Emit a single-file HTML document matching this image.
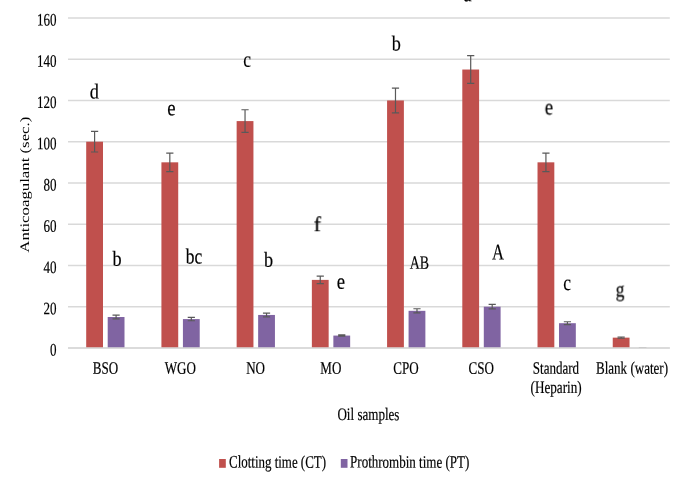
<!DOCTYPE html><html><head><meta charset="utf-8"><style>html,body{margin:0;padding:0;background:#fff;overflow:hidden}svg{display:block;filter:blur(0.35px)}text{font-family:"Liberation Serif",serif;fill:#000;text-rendering:geometricPrecision;stroke:#000;stroke-width:0.2px}g.t{filter:grayscale(1)}</style></head><body>
<svg width="685" height="486" viewBox="0 0 685 486">
<rect width="685" height="486" fill="#fff"/>
<line x1="68.0" x2="669.8" y1="347.95" y2="347.95" stroke="#d9d9d9" stroke-width="1.35"/>
<line x1="68.0" x2="669.8" y1="306.70" y2="306.70" stroke="#d9d9d9" stroke-width="1.35"/>
<line x1="68.0" x2="669.8" y1="265.45" y2="265.45" stroke="#d9d9d9" stroke-width="1.35"/>
<line x1="68.0" x2="669.8" y1="224.21" y2="224.21" stroke="#d9d9d9" stroke-width="1.35"/>
<line x1="68.0" x2="669.8" y1="182.96" y2="182.96" stroke="#d9d9d9" stroke-width="1.35"/>
<line x1="68.0" x2="669.8" y1="141.71" y2="141.71" stroke="#d9d9d9" stroke-width="1.35"/>
<line x1="68.0" x2="669.8" y1="100.46" y2="100.46" stroke="#d9d9d9" stroke-width="1.35"/>
<line x1="68.0" x2="669.8" y1="59.21" y2="59.21" stroke="#d9d9d9" stroke-width="1.35"/>
<line x1="68.0" x2="669.8" y1="17.97" y2="17.97" stroke="#d9d9d9" stroke-width="1.35"/>
<rect x="86.20" y="141.71" width="16.8" height="206.24" fill="#c0504d"/>
<path d="M94.60 131.40V152.02M91.00 131.40H98.20M91.00 152.02H98.20" stroke="#595959" stroke-width="1.2" fill="none"/>
<rect x="107.70" y="317.01" width="16.8" height="30.94" fill="#8064a2"/>
<path d="M116.10 315.16V318.87M112.50 315.16H119.70M112.50 318.87H119.70" stroke="#595959" stroke-width="1.2" fill="none"/>
<rect x="161.42" y="162.33" width="16.8" height="185.62" fill="#c0504d"/>
<path d="M169.82 153.05V171.61M166.22 153.05H173.42M166.22 171.61H173.42" stroke="#595959" stroke-width="1.2" fill="none"/>
<rect x="182.92" y="319.08" width="16.8" height="28.87" fill="#8064a2"/>
<path d="M191.32 317.43V320.73M187.72 317.43H194.92M187.72 320.73H194.92" stroke="#595959" stroke-width="1.2" fill="none"/>
<rect x="236.64" y="121.09" width="16.8" height="226.86" fill="#c0504d"/>
<path d="M245.04 109.74V132.43M241.44 109.74H248.64M241.44 132.43H248.64" stroke="#595959" stroke-width="1.2" fill="none"/>
<rect x="258.14" y="314.95" width="16.8" height="33.00" fill="#8064a2"/>
<path d="M266.54 313.10V316.81M262.94 313.10H270.14M262.94 316.81H270.14" stroke="#595959" stroke-width="1.2" fill="none"/>
<rect x="311.86" y="279.89" width="16.8" height="68.06" fill="#c0504d"/>
<path d="M320.26 276.18V283.60M316.66 276.18H323.86M316.66 283.60H323.86" stroke="#595959" stroke-width="1.2" fill="none"/>
<rect x="333.36" y="335.58" width="16.8" height="12.37" fill="#8064a2"/>
<path d="M341.76 334.96V336.19M338.16 334.96H345.36M338.16 336.19H345.36" stroke="#595959" stroke-width="1.2" fill="none"/>
<rect x="387.08" y="100.46" width="16.8" height="247.49" fill="#c0504d"/>
<path d="M395.48 88.09V112.84M391.88 88.09H399.08M391.88 112.84H399.08" stroke="#595959" stroke-width="1.2" fill="none"/>
<rect x="408.58" y="310.83" width="16.8" height="37.12" fill="#8064a2"/>
<path d="M416.98 308.76V312.89M413.38 308.76H420.58M413.38 312.89H420.58" stroke="#595959" stroke-width="1.2" fill="none"/>
<rect x="462.30" y="69.53" width="16.8" height="278.42" fill="#c0504d"/>
<path d="M470.70 55.71V83.34M467.10 55.71H474.30M467.10 83.34H474.30" stroke="#595959" stroke-width="1.2" fill="none"/>
<rect x="483.80" y="306.70" width="16.8" height="41.25" fill="#8064a2"/>
<path d="M492.20 304.43V308.97M488.60 304.43H495.80M488.60 308.97H495.80" stroke="#595959" stroke-width="1.2" fill="none"/>
<rect x="537.52" y="162.33" width="16.8" height="185.62" fill="#c0504d"/>
<path d="M545.92 153.05V171.61M542.32 153.05H549.52M542.32 171.61H549.52" stroke="#595959" stroke-width="1.2" fill="none"/>
<rect x="559.02" y="323.20" width="16.8" height="24.75" fill="#8064a2"/>
<path d="M567.42 321.76V324.64M563.82 321.76H571.02M563.82 324.64H571.02" stroke="#595959" stroke-width="1.2" fill="none"/>
<rect x="612.74" y="337.64" width="16.8" height="10.31" fill="#c0504d"/>
<path d="M621.14 337.02V338.26M617.54 337.02H624.74M617.54 338.26H624.74" stroke="#595959" stroke-width="1.2" fill="none"/>
<path d="M638.84 347.50H646.44" stroke="#595959" stroke-width="1" opacity="0.45" fill="none"/>
<line x1="68.0" x2="669.8" y1="347.95" y2="347.95" stroke="#d9d9d9" stroke-width="1.35"/>
<rect x="219.1" y="459.0" width="6.7" height="8.8" fill="#c0504d"/>
<rect x="340.8" y="459.0" width="6.7" height="8.8" fill="#8064a2"/>
<g class="t">
<text transform="translate(56.50,355.45) rotate(0.06) scale(0.745,1)" font-size="17.5" text-anchor="end" >0</text>
<text transform="translate(56.50,314.20) rotate(0.06) scale(0.745,1)" font-size="17.5" text-anchor="end" >20</text>
<text transform="translate(56.50,272.95) rotate(0.06) scale(0.745,1)" font-size="17.5" text-anchor="end" >40</text>
<text transform="translate(56.50,231.71) rotate(0.06) scale(0.745,1)" font-size="17.5" text-anchor="end" >60</text>
<text transform="translate(56.50,190.46) rotate(0.06) scale(0.745,1)" font-size="17.5" text-anchor="end" >80</text>
<text transform="translate(56.50,149.21) rotate(0.06) scale(0.745,1)" font-size="17.5" text-anchor="end" >100</text>
<text transform="translate(56.50,107.96) rotate(0.06) scale(0.745,1)" font-size="17.5" text-anchor="end" >120</text>
<text transform="translate(56.50,66.71) rotate(0.06) scale(0.745,1)" font-size="17.5" text-anchor="end" >140</text>
<text transform="translate(56.50,25.47) rotate(0.06) scale(0.745,1)" font-size="17.5" text-anchor="end" >160</text>
<text transform="translate(105.46,373.70) rotate(0.06) scale(0.745,1)" font-size="17.5" text-anchor="middle" >BSO</text>
<text transform="translate(180.38,373.70) rotate(0.06) scale(0.745,1)" font-size="17.5" text-anchor="middle" >WGO</text>
<text transform="translate(255.60,373.70) rotate(0.06) scale(0.745,1)" font-size="17.5" text-anchor="middle" >NO</text>
<text transform="translate(330.82,373.70) rotate(0.06) scale(0.745,1)" font-size="17.5" text-anchor="middle" >MO</text>
<text transform="translate(406.04,373.70) rotate(0.06) scale(0.745,1)" font-size="17.5" text-anchor="middle" >CPO</text>
<text transform="translate(481.26,373.70) rotate(0.06) scale(0.745,1)" font-size="17.5" text-anchor="middle" >CSO</text>
<text transform="translate(555.93,373.70) rotate(0.06) scale(0.745,1)" font-size="17.5" text-anchor="middle" >Standard</text>
<text transform="translate(632.00,373.70) rotate(0.06) scale(0.745,1)" font-size="17.5" text-anchor="middle" >Blank (water)</text>
<text transform="translate(556.08,393.00) rotate(0.06) scale(0.751,1)" font-size="17.5" text-anchor="middle" >(Heparin)</text>
<text transform="translate(368.45,420.10) rotate(0.06) scale(0.746,1)" font-size="17.5" text-anchor="middle" >Oil samples</text>
<text transform="translate(28.95,184.7) rotate(-90.06) scale(1.0,0.775)" font-size="16.8" text-anchor="middle" style="stroke-width:0">Anticoagulant (sec.)</text>
<text transform="translate(229.10,467.60) rotate(0.06) scale(0.738,1)" font-size="17.5" text-anchor="start" >Clotting time (CT)</text>
<text transform="translate(350.10,467.60) rotate(0.06) scale(0.743,1)" font-size="17.5" text-anchor="start" >Prothrombin time (PT)</text>
<text transform="translate(94.35,98.56) rotate(0.06) scale(0.85,1)" font-size="21.45" text-anchor="middle" >d</text>
<text transform="translate(171.31,115.25) rotate(0.06) scale(0.84,1)" font-size="22.23" text-anchor="middle" >e</text>
<text transform="translate(246.99,66.82) rotate(0.06) scale(0.79,1)" font-size="22.04" text-anchor="middle" >c</text>
<text transform="translate(317.40,231.25) rotate(0.06) scale(1.02,1)" font-size="21.25" text-anchor="middle" >f</text>
<text transform="translate(396.30,50.59) rotate(0.06) scale(0.85,1)" font-size="21.45" text-anchor="middle" >b</text>
<text transform="translate(467.70,1.17) rotate(0.06) scale(0.84,1)" font-size="22.23" text-anchor="middle" >a</text>
<text transform="translate(548.81,114.40) rotate(0.06) scale(0.84,1)" font-size="22.23" text-anchor="middle" >e</text>
<text transform="translate(620.10,296.52) rotate(0.06) scale(0.81,1)" font-size="21.55" text-anchor="middle" >g</text>
<text transform="translate(117.13,265.86) rotate(0.06) scale(0.85,1)" font-size="21.45" text-anchor="middle" >b</text>
<text transform="translate(193.97,263.61) rotate(0.06) scale(0.81,1)" font-size="21.55" text-anchor="middle" >bc</text>
<text transform="translate(268.48,266.76) rotate(0.06) scale(0.85,1)" font-size="21.45" text-anchor="middle" >b</text>
<text transform="translate(340.91,288.65) rotate(0.06) scale(0.84,1)" font-size="22.23" text-anchor="middle" >e</text>
<text transform="translate(419.46,268.81) rotate(0.06) scale(0.74,1)" font-size="18.82" text-anchor="middle" >AB</text>
<text transform="translate(498.10,259.56) rotate(0.06) scale(0.74,1)" font-size="22.52" text-anchor="middle" >A</text>
<text transform="translate(567.21,290.04) rotate(0.06) scale(0.79,1)" font-size="22.04" text-anchor="middle" >c</text>
</g>
</svg></body></html>
